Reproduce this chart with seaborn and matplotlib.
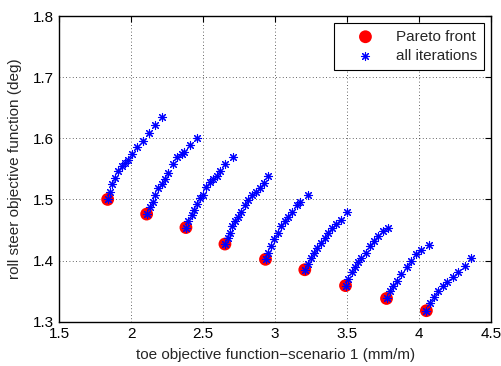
import matplotlib
matplotlib.use("Agg")
import matplotlib.pyplot as plt
from matplotlib.ticker import FuncFormatter, FixedLocator
import seaborn as sns
import pandas as pd

# Pareto front points (one per cluster)
pareto_x = [1.836, 2.107, 2.380, 2.651, 2.933, 3.206, 3.489, 3.774, 4.051]
pareto_y = [1.500, 1.476, 1.454, 1.427, 1.402, 1.385, 1.359, 1.338, 1.318]

# all iterations, one row per cluster
iter_x = [
    [1.836, 1.852, 1.868, 1.887, 1.906, 1.933, 1.956, 1.975, 2.003, 2.040, 2.083, 2.123, 2.165, 2.215],
    [2.107, 2.130, 2.149, 2.165, 2.188, 2.211, 2.234, 2.257, 2.288, 2.319, 2.350, 2.368, 2.407, 2.458],
    [2.380, 2.396, 2.419, 2.435, 2.454, 2.477, 2.496, 2.519, 2.547, 2.569, 2.593, 2.616, 2.651, 2.704],
    [2.651, 2.669, 2.685, 2.701, 2.720, 2.743, 2.762, 2.790, 2.812, 2.840, 2.864, 2.894, 2.924, 2.951],
    [2.933, 2.951, 2.970, 2.993, 3.017, 3.040, 3.067, 3.090, 3.118, 3.149, 3.172, 3.225],
    [3.206, 3.225, 3.248, 3.271, 3.294, 3.322, 3.345, 3.368, 3.396, 3.426, 3.456, 3.496],
    [3.489, 3.507, 3.531, 3.553, 3.576, 3.600, 3.628, 3.658, 3.688, 3.715, 3.750, 3.781],
    [3.774, 3.797, 3.819, 3.847, 3.878, 3.913, 3.947, 3.982, 4.017, 4.069],
    [4.051, 4.074, 4.102, 4.132, 4.167, 4.194, 4.236, 4.271, 4.317, 4.364],
]
iter_y = [
    [1.501, 1.512, 1.526, 1.535, 1.546, 1.554, 1.559, 1.564, 1.574, 1.585, 1.596, 1.608, 1.621, 1.635],
    [1.476, 1.488, 1.496, 1.507, 1.518, 1.526, 1.534, 1.544, 1.558, 1.570, 1.574, 1.578, 1.589, 1.601],
    [1.454, 1.464, 1.475, 1.483, 1.492, 1.502, 1.507, 1.520, 1.529, 1.534, 1.539, 1.546, 1.558, 1.569],
    [1.427, 1.437, 1.445, 1.456, 1.464, 1.472, 1.480, 1.491, 1.499, 1.507, 1.512, 1.518, 1.527, 1.539],
    [1.402, 1.413, 1.424, 1.435, 1.445, 1.456, 1.464, 1.472, 1.480, 1.491, 1.496, 1.508],
    [1.385, 1.394, 1.405, 1.413, 1.421, 1.429, 1.437, 1.445, 1.453, 1.460, 1.467, 1.480],
    [1.359, 1.370, 1.381, 1.389, 1.397, 1.405, 1.413, 1.424, 1.432, 1.440, 1.448, 1.454],
    [1.338, 1.351, 1.359, 1.367, 1.378, 1.389, 1.400, 1.410, 1.417, 1.426],
    [1.318, 1.331, 1.340, 1.351, 1.359, 1.365, 1.373, 1.381, 1.391, 1.405],
]

x_ticks = [1.5, 2, 2.5, 3, 3.5, 4, 4.5]
y_ticks = [1.3, 1.4, 1.5, 1.6, 1.7, 1.8]

sns.set_style("white")
plt.rcParams["font.family"] = ["Liberation Sans", "DejaVu Sans"]

pareto_df = pd.DataFrame({"x": pareto_x, "y": pareto_y})
iter_df = pd.DataFrame({
    "x": [v for row in iter_x for v in row],
    "y": [v for row in iter_y for v in row],
})

fig = plt.figure(figsize=(5.01, 3.66), dpi=100)
ax = fig.add_axes([59.3 / 501, 1 - 321.7 / 366, (491 - 59.3) / 501, (321.7 - 16) / 366])

sns.scatterplot(data=pareto_df, x="x", y="y", ax=ax, color=(1, 0, 0), s=85,
                marker="o", edgecolor="none", label="Pareto front", zorder=3)
sns.scatterplot(data=iter_df, x="x", y="y", ax=ax, color=(0, 0, 1), s=34,
                marker=(8, 2, 0), linewidth=0.8, label="all iterations", zorder=4)

ax.set_xlim(1.5, 4.5)
ax.set_ylim(1.3, 1.8)
ax.xaxis.set_major_locator(FixedLocator(x_ticks))
ax.yaxis.set_major_locator(FixedLocator(y_ticks))
fmt = FuncFormatter(lambda v, p: "%g" % round(v, 3))
ax.xaxis.set_major_formatter(fmt)
ax.yaxis.set_major_formatter(fmt)
ax.tick_params(direction="in", length=4, width=0.8, top=True, right=True,
               labelsize=11, colors="black", pad=4)
for s in ax.spines.values():
    s.set_visible(True)
    s.set_color("black")
    s.set_linewidth(1.0)
ax.grid(True, linestyle=(0, (1, 3)), color="black", linewidth=0.6, alpha=0.8)
ax.set_axisbelow(True)

ax.set_xlabel("toe objective function\u2212scenario 1 (mm/m)", fontsize=11, labelpad=5)
ax.set_ylabel("roll steer objective function (deg)", fontsize=11, labelpad=8)

leg = ax.legend(loc="upper right", frameon=True, fancybox=False, fontsize=11,
                edgecolor="black", borderpad=0.45, handlelength=3.2, handletextpad=0.4,
                borderaxespad=0.45, labelspacing=0.35, markerfirst=True)
leg.get_frame().set_linewidth(0.8)
leg.get_frame().set_alpha(1)

fig.savefig("out.png", dpi=100, facecolor="white")
